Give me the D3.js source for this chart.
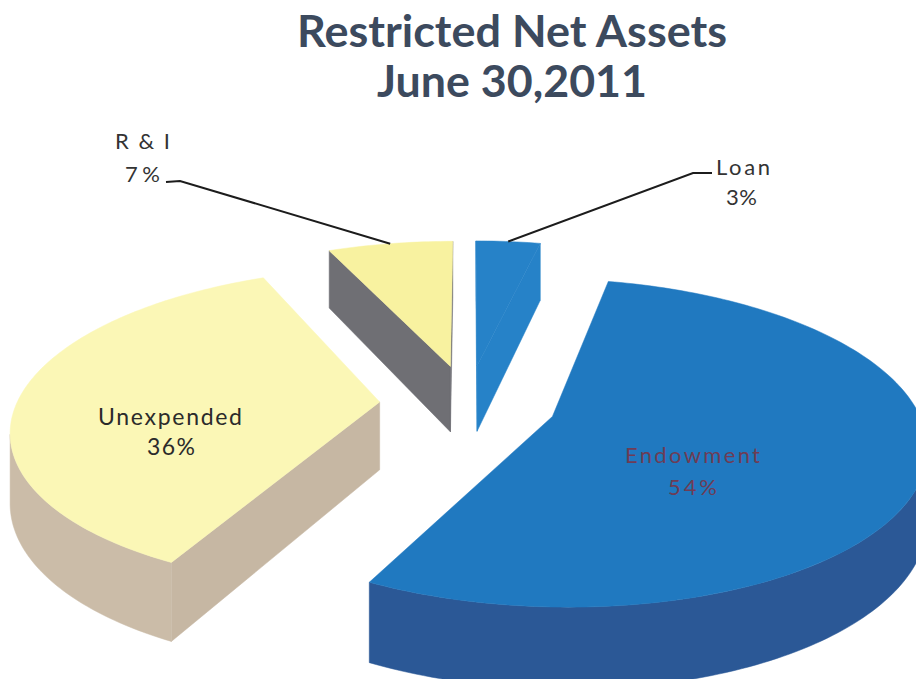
<!DOCTYPE html>
<html>
<head>
<meta charset="utf-8">
<script src="https://cdn.jsdelivr.net/npm/d3@7"></script>
<style>
body{margin:0;background:#ffffff;}
svg{display:block;}
</style>
</head>
<body>
<svg id="chart" width="916" height="679"></svg>
<script>
var categories = ["Loan","Endowment","Unexpended","R & I"];
var values = [3.4, 54.2, 35.8, 6.6];
var titleLines = ["Restricted Net Assets","June 30,2011"];

var topColors = ["#2682c8","#2079c0","#fbf7b6","#f8f2a0"];
var sideColors = ["#2682c8","#2b5896","#cbbca8","#6f6f74"];
var startFaceColors = ["#2682c8","#2b5896","#c6b7a3","#6f6f74"];
var endFaceColors = ["#2682c8","#2b5896","#c6b7a3","#6f6f74"];

// camera for the tilted pie: u = u0 + F*x/(D+y), v = v0 + F*(A+z*T)/(D+y)
var cam = {u0:468, v0:-577.7, F:2230, D:6.3, A:2.771, T:0.192, explode:0.25, sx:1.025};

var labelLayout = {
	"Loan":{x:[716,726], y:[175,205], w:[54,31], size:22, color:"#333333", leader:[[693,173],[712,173]]},
	"R & I":{x:[115,125], y:[149,182], w:[55,35], size:22, color:"#333333", leader:[[180,181],[166,182]]},
	"Unexpended":{x:[98,147], y:[425,455], w:[144,48], size:23, color:"#2b2b2b", leader:null},
	"Endowment":{x:[625,668], y:[463,495], w:[135,49], size:22, color:"#6e3c55", leader:null}
};

var svg = d3.select("#chart");

function project(x, y, z)
{
	var w = cam.D + y;
	return [cam.u0 + cam.F * x / w, cam.v0 + cam.F * (cam.A + z * cam.T) / w];
}

function rim(d, t, z)
{
	return project(d.cx + cam.sx * Math.sin(t), d.cy + Math.cos(t), z);
}

function hub(d, z)
{
	return project(d.cx, d.cy, z);
}

function arcPoints(d, a, b, z)
{
	var pts = [];
	var n = Math.max(2, Math.ceil((b - a) / 0.02));
	for(var i = 0; i <= n; i++) pts.push(rim(d, a + (b - a) * i / n, z));
	return pts;
}

var line = d3.line().curve(d3.curveLinearClosed);

var pie = d3.pie().sort(null).startAngle(0).endAngle(2 * Math.PI);
var arcs = pie(values);
arcs.forEach(function(d, i){
	var mid = (d.startAngle + d.endAngle) / 2;
	d.i = i;
	d.mid = mid;
	d.cx = cam.explode * Math.sin(mid);
	d.cy = cam.explode * Math.cos(mid);
});

var order = arcs.slice().sort(function(p, q){ return q.cy - p.cy; });

var g = svg.append("g").attr("class","pie");
order.forEach(function(d){
	var a = d.startAngle, b = d.endAngle;
	var s = g.append("g").attr("class","slice");
	// cut face at start angle
	if(Math.cos(a) * d.cx - Math.sin(a) * (cam.D + d.cy) > 0)
	{
		s.append("path").attr("d", line([hub(d,0), rim(d,a,0), rim(d,a,1), hub(d,1)]))
			.attr("fill", startFaceColors[d.i]).attr("stroke", startFaceColors[d.i]).attr("stroke-width",0.5);
	}
	// cut face at end angle
	if(-Math.cos(b) * d.cx + Math.sin(b) * (cam.D + d.cy) > 0)
	{
		s.append("path").attr("d", line([hub(d,0), rim(d,b,0), rim(d,b,1), hub(d,1)]))
			.attr("fill", endFaceColors[d.i]).attr("stroke", endFaceColors[d.i]).attr("stroke-width",0.5);
	}
	// outer face, only the runs that face the camera
	var n = Math.ceil((b - a) / 0.01), runs = [], cur = null;
	for(var k = 0; k <= n; k++)
	{
		var t = a + (b - a) * k / n;
		var vis = d.cx * Math.sin(t) + (cam.D + d.cy) * Math.cos(t) < -1;
		if(vis){ if(!cur){ cur = [t, t]; runs.push(cur); } cur[1] = t; }
		else cur = null;
	}
	runs.forEach(function(r){
		var top = arcPoints(d, r[0], r[1], 0);
		var bot = arcPoints(d, r[0], r[1], 1).reverse();
		s.append("path").attr("d", line(top.concat(bot)))
			.attr("fill", sideColors[d.i]).attr("stroke", sideColors[d.i]).attr("stroke-width",0.5);
	});
	// top face
	s.append("path").attr("d", line([hub(d,0)].concat(arcPoints(d, a, b, 0))))
		.attr("fill", topColors[d.i]).attr("stroke", topColors[d.i]).attr("stroke-width",0.5);
});

// leader lines
arcs.forEach(function(d){
	var lay = labelLayout[categories[d.i]];
	if(!lay.leader) return;
	var pts = [rim(d, d.mid, 0)].concat(lay.leader);
	svg.append("path").attr("d", d3.line()(pts))
		.attr("fill","none").attr("stroke","#1c1c1c").attr("stroke-width",2);
});

// data labels
arcs.forEach(function(d){
	var lay = labelLayout[categories[d.i]];
	var texts = [categories[d.i], Math.round(d.value) + "%"];
	texts.forEach(function(txt, j){
		svg.append("text").attr("x", lay.x[j]).attr("y", lay.y[j])
			.attr("textLength", lay.w[j]).attr("lengthAdjust","spacing")
			.style("font-family","Lato, 'Open Sans', sans-serif").style("font-size", lay.size + "px")
			.attr("fill", lay.color).text(txt);
	});
});

// title
var titleX = [297, 377], titleY = [47, 97], titleW = [430, 270];
titleLines.forEach(function(txt, j){
	svg.append("text").attr("x", titleX[j]).attr("y", titleY[j])
		.attr("textLength", titleW[j]).attr("lengthAdjust","spacingAndGlyphs")
		.style("font-family","Lato, 'Open Sans', sans-serif").style("font-size","44px").style("font-weight","bold")
		.attr("fill","#3c4a5e").text(txt);
});
</script>
</body>
</html>
